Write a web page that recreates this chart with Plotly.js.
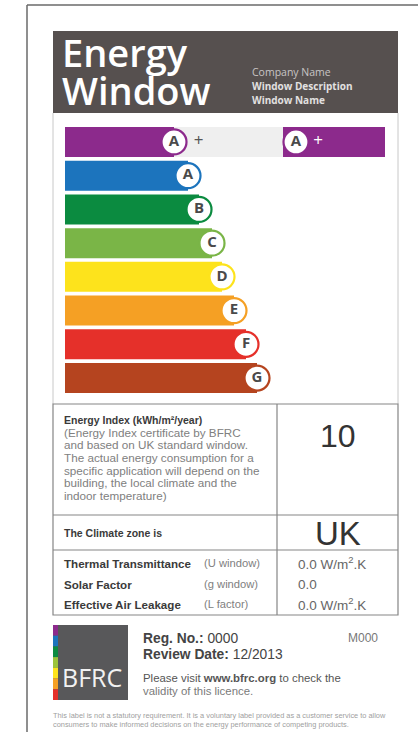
<!DOCTYPE html>
<html>
<head>
<meta charset="utf-8">
<script src="https://cdn.plot.ly/plotly-3.0.1.min.js"></script>
<style>
html,body{margin:0;padding:0;background:#fff;}
#chart{width:418px;height:732px;}
</style>
</head>
<body>
<div id="chart"></div>
<script>
// ---------------- DATA ----------------
const categories = ["A+", "A", "B", "C", "D", "E", "F", "G"];
const barLengths = [109, 123, 134, 147, 157, 169, 181, 192];   // rating bar lengths (scale units)
const barColors = ["#8c2a8c", "#1c74bd", "#0b8b40", "#7ab547", "#fde31c", "#f5a024", "#e5302a", "#b5441f"];
const scaleMax = 320;
const ratingClass = "A+";
const ratingArrowStart = 218;
const energyIndex = "10";
const climateZone = "UK";
const uValue = "0.0 W/m<sup>2</sup>.K";
const gValue = "0.0";
const lValue = "0.0 W/m<sup>2</sup>.K";
const companyLines = ["Company Name", "Window Description", "Window Name"];
const regNo = "0000";
const reviewDate = "12/2013";
const licenceCode = "M000";
const energyNote = [
  "(Energy Index certificate by BFRC",
  "and based on UK standard window.",
  "The actual energy consumption for a",
  "specific application will depend on the",
  "building, the local climate and the",
  "indoor temperature)"
];
const propLabels = ["Thermal Transmittance", "Solar Factor", "Effective Air Leakage"];
const propSymbols = ["(U window)", "(g window)", "(L factor)"];
const propValues = [uValue, gValue, lValue];
const logoStripColors = ["#8c2a8c", "#1c74bd", "#0b8b40", "#9cc43a", "#fde31c", "#f5a024", "#e5302a"];

// ---------------- HELPERS ----------------
const W = 418, H = 732;
const X = p => p / W;
const Y = p => 1 - p / H;
const letters = categories.map(c => c.replace("+", ""));
const plusRows = categories.filter(c => c.indexOf("+") >= 0);
const plusLengths = categories.map((c, i) => barLengths[i]).filter((v, i) => categories[i].indexOf("+") >= 0);
const ratingIdx = categories.indexOf(ratingClass);

const barWidth = 0.89;
const circleSize = 25;
const circleRadius = 13;
const LF = "Open Sans, sans-serif";

const traces = [];
// background of top row
traces.push({
  type: "bar", orientation: "h", y: [categories[0]], x: [scaleMax],
  marker: { color: "#efefef" }, width: barWidth, hoverinfo: "skip"
});
// rating bars
traces.push({
  type: "bar", orientation: "h", y: categories, x: barLengths,
  marker: { color: barColors }, width: barWidth, hoverinfo: "skip"
});
// rating indicator arrow
traces.push({
  type: "bar", orientation: "h", y: [ratingClass], x: [scaleMax - ratingArrowStart], base: [ratingArrowStart],
  marker: { color: barColors[ratingIdx] }, width: barWidth, hoverinfo: "skip"
});
// circles with letters
traces.push({
  type: "scatter", mode: "markers+text", y: categories, x: barLengths,
  text: letters.map(l => "<b>" + l + "</b>"), textposition: "middle center",
  textfont: { family: LF, size: 15, color: "#4a4a4a" },
  marker: { size: circleSize, color: "#ffffff", line: { color: barColors, width: 2.2 } },
  hoverinfo: "skip", cliponaxis: false
});
// plus suffix
traces.push({
  type: "scatter", mode: "markers+text", y: plusRows, x: plusLengths,
  text: plusRows.map(() => "+"), textposition: "middle right",
  textfont: { family: LF, size: 17, color: "#555555" },
  marker: { size: 30, color: "rgba(0,0,0,0)", line: { width: 0 } }, hoverinfo: "skip", cliponaxis: false
});
// indicator circle
traces.push({
  type: "scatter", mode: "markers+text", y: [ratingClass], x: [ratingArrowStart + circleRadius],
  text: ["<b>" + letters[ratingIdx] + "</b>"], textposition: "middle center",
  textfont: { family: LF, size: 15, color: "#4a4a4a" },
  marker: { size: circleSize, color: "#ffffff", line: { color: barColors[ratingIdx], width: 2.2 } },
  hoverinfo: "skip", cliponaxis: false
});
traces.push({
  type: "scatter", mode: "markers+text", y: [ratingClass], x: [ratingArrowStart + circleRadius],
  text: [ratingClass.replace(letters[ratingIdx], "")], textposition: "middle right",
  textfont: { family: LF, size: 17, color: "#ffffff" },
  marker: { size: 26, color: "rgba(0,0,0,0)", line: { width: 0 } }, hoverinfo: "skip", cliponaxis: false
});

// ---------------- SHAPES ----------------
const shapes = [];
const line = (x0, y0, x1, y1, color, width) => shapes.push({
  type: "line", xref: "paper", yref: "paper", x0: X(x0), y0: Y(y0), x1: X(x1), y1: Y(y1),
  line: { color: color, width: width }
});
const rect = (x0, y0, x1, y1, fill) => shapes.push({
  type: "rect", xref: "paper", yref: "paper", x0: X(x0), y0: Y(y0), x1: X(x1), y1: Y(y1),
  fillcolor: fill, line: { color: fill, width: 0 }, layer: "below"
});
// outer frame
line(27, 5, 418, 5, "#6a6a6a", 1.5);
line(27, 5, 27, 732, "#6a6a6a", 1.5);
// header
rect(53, 31, 398, 113, "#56504f");
// panel sides
line(53, 113, 53, 404, "#c8c8c8", 1);
line(398, 113, 398, 404, "#c8c8c8", 1);
// table
shapes.push({ type: "rect", xref: "paper", yref: "paper", x0: X(53), y0: Y(404), x1: X(398), y1: Y(615),
  fillcolor: "rgba(0,0,0,0)", line: { color: "#858585", width: 1.2 } });
line(53, 515, 398, 515, "#858585", 1.2);
line(53, 550, 398, 550, "#858585", 1.2);
line(277, 404, 277, 615, "#858585", 1.2);
// logo
rect(53, 625, 128, 700, "#58585a");
const stripH = 75 / logoStripColors.length;
logoStripColors.forEach((c, i) => rect(53, 625 + i * stripH, 58, 625 + (i + 1) * stripH, c));

// ---------------- ANNOTATIONS ----------------
const ann = [];
const txt = (x, y, text, size, color, opts) => ann.push(Object.assign({
  xref: "paper", yref: "paper", x: X(x), y: Y(y), text: text, showarrow: false,
  xanchor: "left", yanchor: "middle",
  font: { family: "Liberation Sans, Arial, sans-serif", size: size, color: color }
}, opts || {}));
const HF = "Open Sans, sans-serif";
txt(60, 52, "Energy", 38, "#ffffff", { font: { family: HF, size: 38, color: "#ffffff", weight: 600 } });
txt(60, 90, "Window", 38, "#ffffff", { font: { family: HF, size: 38, color: "#ffffff", weight: 600 } });
txt(250, 72, companyLines[0], 10.5, "#c8c4c4", { font: { family: HF, size: 10.5, color: "#c8c4c4" } });
txt(250, 86, "<b>" + companyLines[1] + "</b>", 10, "#e2e0e0", { font: { family: HF, size: 10, color: "#e2e0e0" } });
txt(250, 100, "<b>" + companyLines[2] + "</b>", 10, "#e2e0e0", { font: { family: HF, size: 10, color: "#e2e0e0" } });

txt(62, 420, "<b>Energy Index (kWh/m²/year)</b>", 10.5, "#3a3a3a");
energyNote.forEach((s, i) => txt(62, 432.5 + i * 12.5, s, 11.7, "#808080"));
txt(338, 436, energyIndex, 32, "#333333", { xanchor: "center" });
txt(62, 533, "<b>The Climate zone is</b>", 10.5, "#3a3a3a");
txt(338, 533, climateZone, 33, "#333333", { xanchor: "center" });
const propY = [563, 584, 604];
propLabels.forEach((s, i) => {
  txt(62, propY[i], "<b>" + s + "</b>", 11.6, "#3a3a3a");
  txt(202, propY[i], propSymbols[i], 11.2, "#808080");
  txt(296, propY[i], propValues[i], 13.5, "#666666");
});

txt(60, 677, "BFRC", 25, "#ffffff", { font: { family: HF, size: 25, color: "#f2f2f2" } });
txt(141, 638, "<b>Reg. No.:</b> " + regNo, 13.8, "#444444");
txt(141, 654, "<b>Review Date:</b> " + reviewDate, 13.8, "#444444");
txt(363, 638, licenceCode, 12, "#777777", { xanchor: "center" });
txt(141, 678, "Please visit <b>www.bfrc.org</b> to check the", 11.4, "#555555");
txt(141, 691, "validity of this licence.", 11.4, "#7a7a7a");
txt(51, 715, "This label is not a statutory requirement. It is a voluntary label provided as a customer service to allow", 7.4, "#a0a0a0");
txt(51, 724, "consumers to make informed decisions on the energy performance of competing products.", 7.4, "#a0a0a0");

// ---------------- LAYOUT ----------------
const rowsTop = 125.1, rowsBottom = 394.9;
const layout = {
  width: W, height: H,
  margin: { l: 0, r: 0, t: 0, b: 0 },
  paper_bgcolor: "#ffffff", plot_bgcolor: "rgba(0,0,0,0)",
  showlegend: false, barmode: "overlay",
  xaxis: { domain: [X(65), X(385)], range: [0, scaleMax], showgrid: false, zeroline: false,
           showticklabels: false, showline: false, ticks: "", fixedrange: true },
  yaxis: { domain: [Y(rowsBottom), Y(rowsTop)], type: "category", categoryorder: "array",
           categoryarray: categories, range: [categories.length - 0.5, -0.5],
           showgrid: false, zeroline: false, showticklabels: false, showline: false, ticks: "", fixedrange: true },
  shapes: shapes,
  annotations: ann
};
Plotly.newPlot("chart", traces, layout, { displayModeBar: false, staticPlot: true });
</script>
</body>
</html>
